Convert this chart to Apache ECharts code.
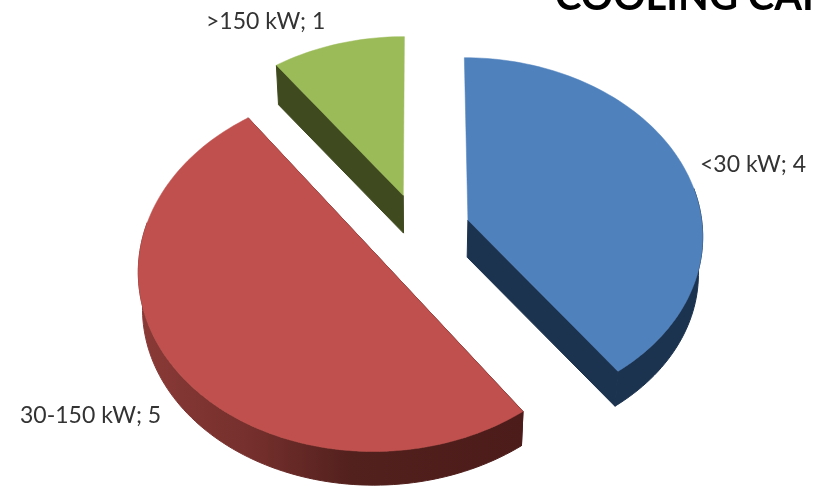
<!DOCTYPE html>
<html><head><meta charset="utf-8">
<style>html,body{margin:0;padding:0;background:#fff;overflow:hidden}#c{width:815px;height:486px}</style>
<script src="https://cdn.jsdelivr.net/npm/echarts@6/dist/echarts.min.js"></script>
</head><body><div id="c"></div>
<script>
// Data
var categories = ['<30 kW', '30-150 kW', '>150 kW'];
var values = [4, 5, 1];
var titleText = 'COOLING CAPACITY';

// Styles and 3D layout
var topColors = ['#4f81bd', '#c0504d', '#9bbb59'];
var wallColors = [
  '#1c3350',
  {type:'linear', global:true, x:140, y:0, x2:525, y2:0, colorStops:[
    {offset:0, color:'#8a3a37'}, {offset:0.3, color:'#742f2c'}, {offset:0.55, color:'#52201d'}, {offset:1, color:'#4c1c1a'}]},
  '#3f4a1f'
];
var labelAnchors = [[700,165,'left'],[20,416,'left'],[206,22,'left']];
var CX = 419, CY = 232, RX = 235, RY = 177, PERSP = 0.079, EXPLODE = 0.22, DEPTH = 37, SHRINK = 0.985;
var total = values.reduce(function(a,b){return a+b;},0);

function project(X, Y) {
  var w = 1 + PERSP * Y;
  return [CX + RX * X / w, CY - RY * Y / w];
}
function lower(p) {
  return [CX + (p[0]-CX)*SHRINK, CY + (p[1]-CY)*SHRINK + DEPTH];
}
function renderSlice(params, api) {
  var i = params.dataIndex, start = 0;
  for (var k = 0; k < i; k++) start += values[k];
  var a0 = start / total * 2 * Math.PI;
  var a1 = (start + api.value(0)) / total * 2 * Math.PI;
  var mid = (a0 + a1) / 2;
  var ox = EXPLODE * Math.sin(mid), oy = EXPLODE * Math.cos(mid);
  var apex = project(ox, oy), arc = [], front = [];
  var n = Math.ceil((a1 - a0) / (Math.PI / 120));
  for (var j = 0; j <= n; j++) {
    var a = a0 + (a1 - a0) * j / n;
    var p = project(ox + Math.sin(a), oy + Math.cos(a));
    arc.push(p);
    if (Math.cos(a) < 0.2) front.push(p);   // only the near rim can be seen
  }
  var lowApex = lower(apex);
  var wall = wallColors[i];
  function poly(points, fill, z2, lw) {
    return {type:'polygon', shape:{points:points}, z2:z2,
      style:{fill:fill, stroke:fill, lineWidth:lw}};
  }
  var children = [];
  [arc[0], arc[n]].forEach(function(end){
    if (Math.abs(end[0] - apex[0]) > 5) {
      children.push(poly([apex, end, lower(end), lowApex], wall, 1, 1));
    }
  });
  if (front.length > 1) {
    children.push(poly(front.concat(front.map(lower).reverse()), wall, 1, 1));
  }
  children.push(poly([apex].concat(arc), topColors[i], 2, 0.5));
  children.push({type:'text', z2:3, style:{
    x:labelAnchors[i][0], y:labelAnchors[i][1],
    text:categories[i] + '; ' + api.value(0),
    align:labelAnchors[i][2], verticalAlign:'middle',
    fill:'#333333', font:'23px Lato, "Open Sans", sans-serif'}});
  return {type:'group', children:children};
}

var chart = echarts.init(document.getElementById('c'), null, {renderer:'canvas'});
chart.setOption({
  animation:false,
  backgroundColor:'#ffffff',
  title:{text:titleText, left:555, top:-23, padding:0,
    textStyle:{color:'#000', fontFamily:'Lato, "Open Sans", sans-serif', fontWeight:'bold', fontSize:40}},
  series:[{
    type:'custom',
    coordinateSystem:'none',
    renderItem:renderSlice,
    data:values.map(function(v,i){return {name:categories[i], value:[v]};})
  }]
});
</script></body></html>
